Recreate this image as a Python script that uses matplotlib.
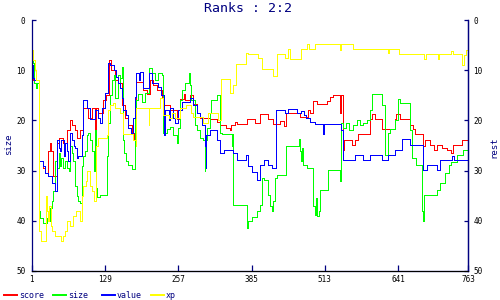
import numpy as np
import matplotlib.pyplot as plt
from matplotlib.lines import Line2D

# step series: x = point where the value changes, y = new value
score_x = [1, 4, 14, 20, 24, 30, 33, 35, 39, 45, 48, 56, 62, 68, 71, 76, 80, 85, 90, 91,
           100, 106, 112, 113, 117, 126, 131, 136, 140, 146, 152, 158, 164, 170, 176, 180,
           181, 184, 196, 202, 208, 213, 220, 228, 231, 243, 254, 260, 267, 269, 277, 283,
           289, 295, 313, 324, 330, 340, 347, 349, 356, 359, 377, 391, 400, 414, 423, 435,
           441, 446, 470, 484, 487, 493, 499, 516, 522, 528, 539, 541, 545, 547, 560, 566,
           571, 592, 595, 601, 612, 635, 638, 644, 662, 667, 670, 685, 688, 697, 704, 708,
           717, 726, 733, 737, 752, 763]
score_y = [10, 12, 28, 29.5, 30.5, 26, 24.5, 26, 31, 24.5, 23.5, 24.5, 22, 20, 21, 22, 23.5,
           22, 16, 17.5, 19.5, 17.5, 26, 17.5, 18.5, 16, 15, 8, 10, 12, 12.5, 17, 19.5, 21,
           22.5, 24, 22.5, 12.3, 14, 14.8, 12, 13, 14, 15.5, 17, 17.9, 19.8, 15.8, 14.8, 16,
           15, 16.8, 18.5, 19.5, 19.8, 20.3, 21, 21.5, 22, 21, 20.3, 20.7, 19.8, 20.5, 18.7,
           19.8, 20.7, 20.2, 21.2, 18.6, 19.3, 17.9, 18.6, 16.2, 16.7, 16.2, 15.3, 15, 18.6,
           15, 25.9, 23.9, 24.9, 23.9, 22.8, 19.8, 18.7, 19.8, 21.8, 19.8, 18.7, 19.8, 21,
           21.8, 22.8, 25, 23.9, 24.9, 25.9, 24.9, 25.5, 25.9, 26.5, 24.9, 23.9, 23.9]

size_x = [1, 3, 5, 8, 10, 13, 14, 16, 21, 27, 31, 33, 36, 38, 41, 42, 45, 48, 50, 53, 56,
          59, 62, 66, 68, 71, 74, 77, 80, 82, 86, 88, 90, 91, 94, 97, 100, 103, 106, 109,
          112, 113, 115, 120, 132, 134, 135, 138, 141, 144, 146, 152, 155, 156, 158, 161,
          163, 166, 170, 176, 181, 184, 187, 193, 199, 205, 211, 217, 222, 228, 231, 237,
          243, 248, 254, 257, 260, 263, 269, 275, 277, 280, 286, 289, 295, 301, 303, 304,
          307, 312, 315, 324, 330, 333, 350, 351, 353, 377, 379, 385, 394, 400, 403, 406,
          414, 417, 420, 423, 426, 429, 446, 449, 467, 469, 471, 473, 475, 481, 493, 495,
          497, 499, 502, 505, 519, 539, 542, 545, 550, 555, 563, 570, 575, 580, 586, 592,
          595, 612, 618, 624, 627, 635, 641, 644, 650, 662, 665, 673, 682, 685, 686, 708,
          714, 723, 729, 734, 743, 755, 763]
size_y = [6, 8.5, 12.5, 13.5, 12.5, 13, 38, 39.5, 40.5, 39.5, 40, 37.5, 36, 34, 33, 28,
          29.5, 26.5, 29, 27.5, 29.5, 28, 29.5, 30, 25, 26.5, 28, 33, 35, 36, 36.5, 29, 28,
          27, 26, 23, 22.5, 24, 26, 30, 22, 33.5, 35.2, 34.9, 27, 22, 20.6, 15, 12, 11,
          15.5, 11, 13, 11.5, 9.3, 24, 26.5, 28, 28.9, 29.6, 17.5, 16, 14.8, 16.3, 14.6,
          9.5, 10.6, 12, 10.5, 11, 22.5, 21.8, 21.3, 23, 24.5, 21.5, 16, 14, 12.5, 10.5, 13,
          16, 21, 22, 23.5, 24, 30, 24, 21.5, 18.5, 16, 15, 22.5, 22.8, 25, 22.8, 36.9, 41.5,
          40, 39.2, 38, 36.9, 31.5, 31.9, 34.9, 37, 38, 36, 31.5, 30.9, 25, 25, 23.8, 26, 28,
          25.5, 28.9, 29.5, 37, 38.9, 35.5, 39, 38, 33.9, 29.9, 32, 20.6, 21.5, 20.6, 22, 21,
          20, 21, 20.5, 20, 17.9, 14.7, 17, 26.9, 22.6, 21.8, 20, 15.8, 16.5, 16.6, 22, 27.5,
          28.9, 38, 40, 34.9, 33.9, 32.5, 30.5, 28.9, 28.3, 26.9, 25.8, 25.8]

value_x = [1, 3, 5, 14, 20, 24, 30, 36, 42, 45, 48, 50, 53, 58, 60, 62, 65, 68, 71, 75, 77,
           80, 82, 88, 90, 91, 97, 103, 111, 117, 120, 123, 129, 135, 138, 144, 148, 152,
           155, 158, 161, 166, 170, 175, 178, 181, 184, 188, 190, 196, 205, 211, 222, 226,
           232, 234, 240, 243, 248, 251, 257, 263, 277, 283, 289, 295, 298, 304, 305, 306,
           312, 324, 330, 336, 353, 359, 375, 378, 385, 394, 400, 406, 414, 420, 428, 443,
           449, 464, 472, 476, 480, 487, 496, 510, 512, 542, 544, 566, 580, 592, 612, 624,
           635, 647, 662, 685, 691, 708, 714, 735, 738, 763]
value_y = [9, 11.5, 12, 28, 29, 30.5, 31, 32.5, 34, 24, 25.5, 26, 24, 27, 24.5, 26, 28, 22.5,
           24, 25, 25.5, 27.5, 27, 23, 20, 16, 17.5, 19.8, 18, 19.5, 20.5, 17.5, 14.5, 8.5,
           9, 10, 11.3, 12.5, 13.5, 15.5, 18, 19, 21.5, 22.5, 19.6, 15.3, 10.5, 12, 10.3,
           13.5, 10.6, 12.6, 13.3, 15, 23, 18, 20, 17.5, 19.5, 20.6, 18, 16.3, 15.5, 17, 18.5,
           19.3, 21, 25, 29.5, 23, 22, 24, 26.5, 25.9, 26.5, 27.9, 26.9, 29, 30.3, 31.9,
           28.9, 27.9, 28.9, 29.5, 17.9, 18.6, 17.7, 18.6, 18.2, 19, 19.5, 20.3, 20.8, 22.8,
           20.8, 22, 27.9, 26.9, 27.9, 26.9, 27.9, 26.9, 25.9, 23.8, 24.9, 29.9, 28.9, 29.9,
           27.9, 27, 27.9, 27.9]

xp_x = [1, 3, 6, 8, 14, 18, 24, 26, 28, 30, 32, 34, 36, 42, 53, 56, 59, 62, 68, 74, 79, 85,
        88, 91, 96, 98, 102, 106, 110, 113, 114, 117, 132, 135, 138, 143, 146, 155, 161,
        178, 183, 184, 205, 206, 225, 231, 240, 246, 252, 260, 270, 280, 283, 300, 309, 327,
        332, 347, 353, 358, 375, 379, 397, 403, 423, 429, 443, 449, 452, 472, 481, 486, 495,
        539, 542, 562, 623, 625, 642, 687, 689, 710, 712, 733, 737, 752, 756, 760, 763]
xp_y = [6, 8, 10, 12, 42, 44, 44, 35, 38, 40, 37, 41, 42, 43, 44, 43, 42, 40, 41, 39, 38,
        40, 35, 33, 32, 30, 33, 34, 36, 26, 25, 23.5, 23, 18, 17, 16.5, 17.5, 18.5, 22.8, 24,
        25, 17.6, 21, 17.6, 15.5, 19, 19.6, 18.6, 19.6, 17.5, 17, 18.6, 19.3, 20.5, 18.6,
        20, 11.8, 14.5, 13, 8.8, 6.5, 6.8, 7.5, 9.8, 11.2, 6.8, 7.6, 5.8, 7.8, 5.8, 4.8,
        5.8, 4.8, 6, 4.8, 5.8, 6.6, 5.8, 6.8, 7.8, 6.8, 7.8, 6.8, 6.2, 6.8, 9, 7, 6, 6]

names = ['score', 'size', 'value', 'xp']
colors = ['#ff0000', '#00ff00', '#0000ff', '#ffff00']
xticks = [1, 129, 257, 385, 513, 641, 763]
yticks = [0, 10, 20, 30, 40, 50]

navy = '#000080'
mono = 'DejaVu Sans Mono'

fig = plt.figure(figsize=(5, 3), dpi=100)
ax = fig.add_axes([31.7 / 500, 29 / 300, 436.3 / 500, 251 / 300])

series = [(score_x, score_y), (size_x, size_y), (value_x, value_y), (xp_x, xp_y)]
for (sx, sy), c in zip(series, colors):
    ax.plot(sx, sy, drawstyle='steps-post', color=c, lw=0.6, antialiased=False)

ax.set_xlim(1, 763)
ax.set_ylim(50, 0)
ax.set_xticks(xticks)
ax.set_yticks(yticks)
ax.spines['top'].set_visible(False)
for s in ['left', 'right', 'bottom']:
    ax.spines[s].set_color(navy)
    ax.spines[s].set_linewidth(0.9)
ax.tick_params(axis='x', direction='in', length=4, width=0.9, color=navy, pad=3,
               labelsize=5.5)
ax.tick_params(axis='y', direction='in', length=3, width=0.9, color=navy, pad=4.5,
               labelsize=5.5)
for lab in ax.get_xticklabels() + ax.get_yticklabels():
    lab.set_family(mono)

ax2 = ax.twinx()
ax2.set_ylim(50, 0)
ax2.set_yticks(yticks)
ax2.spines['top'].set_visible(False)
ax2.spines['right'].set_color(navy)
ax2.spines['right'].set_linewidth(0.9)
ax2.spines['left'].set_visible(False)
ax2.tick_params(axis='y', direction='in', length=3, width=0.9, color=navy, pad=3.8,
                labelsize=5.5)
for lab in ax2.get_yticklabels():
    lab.set_family(mono)

fig.text(0.497, 1 - 8 / 300, 'Ranks : 2:2', ha='center', va='center', color=navy,
         family=mono, fontsize=9.5)
fig.text(8.5 / 500, 1 - 144 / 300, 'size', rotation=90, ha='center', va='center',
         color=navy, family=mono, fontsize=6.5)
fig.text(494 / 500, 1 - 147 / 300, 'rest', rotation=90, ha='center', va='center',
         color=navy, family=mono, fontsize=6.5)

# legend along the bottom
for i, (n, c) in enumerate(zip(names, colors)):
    x0 = (4 + 49 * i) / 500
    fig.add_artist(Line2D([x0, x0 + 13 / 500], [1 - 295 / 300] * 2, color=c, lw=1.4,
                          transform=fig.transFigure))
    fig.text(x0 + 15 / 500, 1 - 295 / 300, n, va='center', ha='left', color=navy,
             family=mono, fontsize=6)

fig.savefig('out.png', dpi=100)
